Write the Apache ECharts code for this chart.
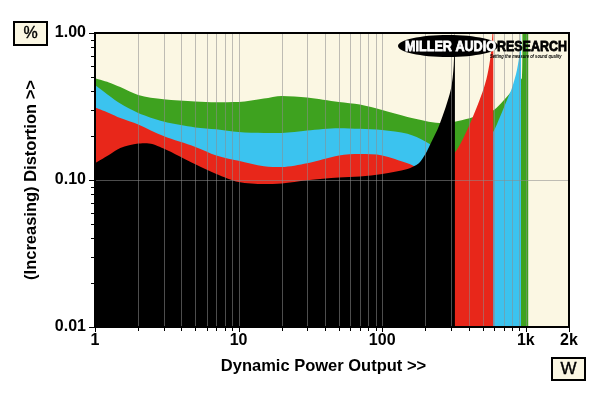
<!DOCTYPE html>
<html>
<head>
<meta charset="utf-8">
<script src="https://cdn.jsdelivr.net/npm/echarts@6/dist/echarts.min.js"></script>
<style>
html,body{margin:0;padding:0;background:#fff;}
#chart{width:600px;height:393px;}
</style>
</head>
<body>
<div id="chart"></div>
<script>
// ---- data (power in W, distortion in %) ----
const greenData = [[1,0.492],[1.25,0.461],[1.5,0.429],[2,0.379],[3,0.354],[5,0.342],[7,0.338],[10,0.339],[15,0.358],[20,0.373],[30,0.364],[50,0.339],[70,0.326],[100,0.299],[150,0.268],[200,0.252],[250,0.244],[320,0.249],[400,0.262],[500,0.279],[600,0.299],[700,0.347],[800,0.403],[900,0.472],[940,0.494],[955,1.2],[1040,1.2]];
const blueData = [[1,0.443],[1.25,0.376],[1.5,0.331],[2,0.286],[3,0.250],[5,0.228],[7,0.221],[10,0.212],[15,0.209],[20,0.209],[30,0.217],[50,0.225],[70,0.223],[100,0.219],[150,0.206],[200,0.183],[250,0.160],[320,0.141],[400,0.155],[500,0.181],[593,0.213],[661,0.268],[740,0.350],[801,0.422],[868,0.560],[911,0.766],[926,1.2]];
const redData = [[1,0.311],[1.25,0.286],[1.5,0.264],[2,0.239],[3,0.199],[5,0.168],[7,0.147],[10,0.135],[15,0.124],[20,0.1226],[30,0.130],[50,0.147],[70,0.150],[100,0.147],[150,0.130],[200,0.117],[250,0.126],[320,0.153],[400,0.230],[500,0.397],[540,0.518],[570,0.708],[594,1.2]];
const blackData = [[1,0.130],[1.25,0.148],[1.5,0.165],[2,0.177],[2.3,0.178],[3,0.164],[5,0.128],[7,0.110],[10,0.097],[15,0.094],[20,0.0947],[30,0.0995],[50,0.104],[70,0.1056],[100,0.110],[150,0.119],[180,0.130],[200,0.150],[215,0.173],[250,0.237],[300,0.410],[315,0.606],[321,1.2]];

const xMin = 1, xMax = 2000, yMin = 0.01, yMax = 1;
const xTickValues = [1,2,3,4,5,6,7,8,9,10,20,30,40,50,60,70,80,90,100,200,300,400,500,600,700,800,900,1000,2000];
const xGridValues = [2,3,4,5,6,7,8,9,10,20,30,40,50,60,70,80,90,100,200,300,400,500,600,700,800,900,1000];
const yTickValues = [0.01,0.02,0.03,0.04,0.05,0.06,0.07,0.08,0.09,0.1,0.2,0.3,0.4,0.5,0.6,0.7,0.8,0.9,1];
const yMajorValues = [0.01,0.1,1];
const xMajorValues = [1,10,100,1000,2000];
const yGridValues = [0.1];

const cream = '#fbf7e3';
const gridColor = 'rgba(140,140,140,0.55)';
const FONT = '"Liberation Sans", Arial, Helvetica, sans-serif';

function areaSeries(name, data, color, z) {
  return {
    name, type: 'line', data, smooth: 0.3,
    showSymbol: false, symbol: 'none', silent: true,
    lineStyle: { width: 0, color },
    areaStyle: { color, opacity: 1, origin: 'start' },
    clip: true, z
  };
}
const crisp = v => Math.round(v) + 0.5;

const chart = echarts.init(document.getElementById('chart'), null, { renderer: 'canvas' });
chart.setOption({
  animation: false,
  backgroundColor: '#ffffff',
  grid: { left: 95, top: 33, right: 31, bottom: 66, show: true, backgroundColor: cream, borderWidth: 0 },
  xAxis: {
    type: 'log', logBase: 10, min: xMin, max: xMax,
    name: 'Dynamic Power Output >>', nameLocation: 'middle', nameGap: 31,
    nameTextStyle: { fontFamily: FONT, fontWeight: 'bold', fontSize: 16.5, color: '#000', padding: [0, 17, 0, 0] },
    axisLine: { show: false }, axisTick: { show: false }, splitLine: { show: false }, minorTick: { show: false },
    axisLabel: {
      show: true, margin: 6, showMaxLabel: true, showMinLabel: true,
      fontFamily: FONT, fontWeight: 'bold', fontSize: 16, color: '#000',
      formatter: v => v >= 999 ? Math.round(v / 1000) + 'k' : String(Math.round(v))
    }
  },
  yAxis: {
    type: 'log', logBase: 10, min: yMin, max: yMax,
    name: '(Increasing) Distortion >>', nameLocation: 'middle', nameGap: 55, nameRotate: 90,
    nameTextStyle: { fontFamily: FONT, fontWeight: 'bold', fontSize: 16.5, color: '#000' },
    axisLine: { show: false }, axisTick: { show: false }, splitLine: { show: false },
    axisLabel: {
      show: true, margin: 9,
      fontFamily: FONT, fontWeight: 'bold', fontSize: 16, color: '#000',
      formatter: v => v.toFixed(2)
    }
  },
  series: [
    areaSeries('green', greenData, '#3ea21f', 2),
    areaSeries('blue', blueData, '#3bc3ef', 3),
    areaSeries('red', redData, '#e8271a', 4),
    areaSeries('black', blackData, '#000000', 5),
    {
      type: 'custom', name: 'vgrid', silent: true, z: 10, clip: false,
      data: xGridValues.map(v => [v, yMax]),
      renderItem: (params, api) => {
        const v = api.value(0);
        const p1 = api.coord([v, yMax]), p2 = api.coord([v, yMin]);
        return { type: 'line', shape: { x1: crisp(p1[0]), y1: p1[1], x2: crisp(p2[0]), y2: p2[1] }, style: { stroke: gridColor, lineWidth: 1 } };
      }
    },
    {
      type: 'custom', name: 'hgrid', silent: true, z: 10, clip: false,
      data: yGridValues.map(v => [xMin, v]),
      renderItem: (params, api) => {
        const v = api.value(1);
        const p1 = api.coord([xMin, v]), p2 = api.coord([xMax, v]);
        return { type: 'line', shape: { x1: p1[0], y1: crisp(p1[1]), x2: p2[0], y2: crisp(p2[1]) }, style: { stroke: gridColor, lineWidth: 1 } };
      }
    },
    {
      type: 'custom', name: 'xticks', silent: true, z: 11, clip: false,
      data: xTickValues.map(v => [v, yMin]),
      renderItem: (params, api) => {
        const v = api.value(0);
        const p = api.coord([v, yMin]);
        const len = xMajorValues.includes(v) ? 5 : 4;
        return { type: 'line', shape: { x1: crisp(p[0]), y1: p[1], x2: crisp(p[0]), y2: p[1] + len }, style: { stroke: '#000', lineWidth: 1 } };
      }
    },
    {
      type: 'custom', name: 'yticks', silent: true, z: 11, clip: false,
      data: yTickValues.map(v => [xMin, v]),
      renderItem: (params, api) => {
        const v = api.value(1);
        const p = api.coord([xMin, v]);
        const len = yMajorValues.some(m => Math.abs(m - v) < 1e-9) ? 6 : 4;
        return { type: 'line', shape: { x1: p[0] - len, y1: crisp(p[1]), x2: p[0], y2: crisp(p[1]) }, style: { stroke: '#000', lineWidth: 1 } };
      }
    },
    {
      type: 'custom', name: 'frame', silent: true, z: 12, clip: false,
      data: [[xMin, yMin]],
      renderItem: (params, api) => {
        const a = api.coord([xMin, yMax]), b = api.coord([xMax, yMin]);
        return { type: 'rect', shape: { x: a[0], y: a[1], width: b[0] - a[0], height: b[1] - a[1] }, style: { fill: 'none', stroke: '#000', lineWidth: 2 } };
      }
    }
  ],
  graphic: [
    { type: 'rect', shape: { x: 14, y: 22, width: 33, height: 23 }, style: { fill: cream, stroke: '#000', lineWidth: 2 }, z: 20 },
    { type: 'text', x: 30.5, y: 34, style: { text: '%', font: '16px ' + FONT, fill: '#000', stroke: '#000', lineWidth: 0.4, textAlign: 'center', textVerticalAlign: 'middle' }, z: 21 },
    { type: 'rect', shape: { x: 552, y: 358, width: 33, height: 22 }, style: { fill: cream, stroke: '#000', lineWidth: 2 }, z: 20 },
    { type: 'text', x: 568.5, y: 369.5, style: { text: 'W', font: '17px ' + FONT, fill: '#000', stroke: '#000', lineWidth: 0.4, textAlign: 'center', textVerticalAlign: 'middle' }, z: 21 },
    { type: 'ellipse', shape: { cx: 448, cy: 46, rx: 50, ry: 11 }, style: { fill: '#000' }, z: 30 },
    { type: 'text', x: 405, y: 46.5, scaleX: 0.84, style: { text: 'MILLER AUDIO', font: 'bold 15px ' + FONT, fill: '#fff', stroke: '#fff', lineWidth: 0.8, textAlign: 'left', textVerticalAlign: 'middle' }, z: 31 },
    { type: 'text', x: 497, y: 46.5, scaleX: 0.83, style: { text: 'RESEARCH', font: 'bold 15px ' + FONT, fill: '#000', stroke: '#000', lineWidth: 0.8, textAlign: 'left', textVerticalAlign: 'middle' }, z: 31 },
    { type: 'text', x: 490, y: 56, scaleX: 0.68, style: { text: 'Setting the measure of sound quality', font: 'italic bold 6px ' + FONT, fill: '#000', textAlign: 'left', textVerticalAlign: 'middle' }, z: 31 }
  ]
});
</script>
</body>
</html>
